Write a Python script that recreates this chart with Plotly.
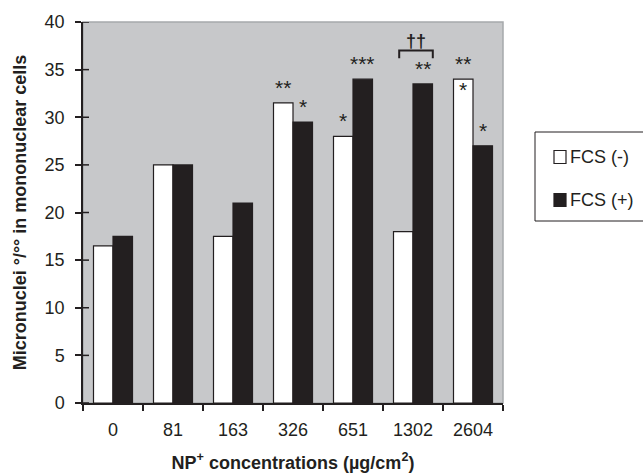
import plotly.graph_objects as go

categories = ["0", "81", "163", "326", "651", "1302", "2604"]
fcs_neg = [16.5, 25, 17.5, 31.5, 28, 18, 34]
fcs_pos = [17.5, 25, 21, 29.5, 34, 33.5, 27]
stars_neg_above = ["", "", "", "**", "*", "", "**"]
stars_neg_inside = ["", "", "", "", "", "", "*"]
stars_pos_above = ["", "", "", "*", "***", "**", "*"]
bracket_group = "1302"
bracket_label = "††"
bracket_level = 37.0
legend_labels = ["FCS (-)", "FCS (+)"]
y_max, y_step = 40, 5

FONT = "Liberation Sans, Arial, sans-serif"
INK = "#231f20"
BARGAP = 0.35
W = (1 - BARGAP) / 2
L, R, T, B = 83, 503, 22, 403
PW, PH = R - L, B - T
legend_fills = ["white", INK]

def px(xp):
    return (xp - L) / PW

def py(yp):
    return (B - yp) / PH

fig = go.Figure()
fig.add_trace(go.Bar(x=categories, y=fcs_neg, name=legend_labels[0],
                     marker=dict(color=legend_fills[0], line=dict(color=INK, width=1.2))))
fig.add_trace(go.Bar(x=categories, y=fcs_pos, name=legend_labels[1],
                     marker=dict(color=legend_fills[1], line=dict(color=INK, width=1.2))))

ann = []
def star(xpos, yval, text, above=True):
    ann.append(dict(x=xpos, y=yval, xref="x", yref="y", text=text, showarrow=False,
                    yanchor="bottom" if above else "top",
                    yshift=2 if above else 3,
                    font=dict(family=FONT, size=21, color=INK)))

for i, c in enumerate(categories):
    if stars_neg_above[i]:
        star(i - W / 2, fcs_neg[i], stars_neg_above[i])
    if stars_neg_inside[i]:
        star(i - W / 2, fcs_neg[i], stars_neg_inside[i], above=False)
    if stars_pos_above[i]:
        star(i + W / 2, fcs_pos[i], stars_pos_above[i])

bi = categories.index(bracket_group)
x0b, x1b = bi - 0.23, bi + 0.33
shapes = [
    dict(type="path", xref="x", yref="y",
         path=f"M {x0b} {bracket_level - 0.8} L {x0b} {bracket_level} L {x1b} {bracket_level} L {x1b} {bracket_level - 0.8}",
         line=dict(color=INK, width=2)),
    dict(type="rect", xref="paper", yref="paper", x0=0, x1=1, y0=0, y1=1,
         line=dict(color="#a7a9ac", width=1.5), layer="below"),
    dict(type="rect", xref="paper", yref="paper", x0=px(535), x1=px(660),
         y0=py(221), y1=py(132), line=dict(color=INK, width=1)),
]
# inner half of the crossing y-axis ticks
for v in range(0, y_max + 1, y_step):
    shapes.append(dict(type="line", xref="paper", yref="y", x0=0, x1=px(89), y0=v, y1=v,
                       line=dict(color=INK, width=1.5)))
ann.append(dict(x=(x0b + x1b) / 2, y=bracket_level, xref="x", yref="y", text="<b>" + bracket_label + "</b>",
                showarrow=False, yanchor="bottom", yshift=-2,
                font=dict(family=FONT, size=18, color=INK)))
for k, lab in enumerate(legend_labels):
    yc = 157 + 43 * k
    shapes.append(dict(type="rect", xref="paper", yref="paper",
                       x0=px(554), x1=px(566), y0=py(yc + 6.5), y1=py(yc - 6.5),
                       fillcolor=legend_fills[k], line=dict(color=INK, width=1.2)))
    ann.append(dict(x=px(568), y=py(yc), xref="paper", yref="paper",
                    text=lab, showarrow=False, xanchor="left", yanchor="middle",
                    font=dict(family=FONT, size=18, color=INK)))

fig.update_layout(
    width=643, height=474,
    margin=dict(l=L, r=643 - R, t=T, b=474 - B, autoexpand=False),
    paper_bgcolor="white",
    plot_bgcolor="#c7c8ca",
    barmode="group", bargap=BARGAP, bargroupgap=0,
    font=dict(family=FONT, size=18, color=INK),
    showlegend=False,
    annotations=ann,
    shapes=shapes,
    xaxis=dict(type="category", range=[-0.5, 6.5], showline=True, linecolor=INK, linewidth=1.5,
               ticks="outside", tickson="boundaries", ticklen=6, tickwidth=1.5, tickcolor=INK,
               ticklabelstandoff=10, showgrid=False, zeroline=False, automargin=False,
               title=dict(text="<b>NP<sup>+</sup> concentrations (µg/cm<sup>2</sup>)</b>",
                          font=dict(family=FONT, size=18, color=INK), standoff=17)),
    yaxis=dict(range=[0, y_max], dtick=y_step, showline=True, linecolor=INK, linewidth=1.5,
               ticks="outside", ticklen=6, tickwidth=1.5, tickcolor=INK,
               ticklabelstandoff=7, showgrid=False, zeroline=False, automargin=False,
               title=dict(text="<b>Micronuclei °/°° in mononuclear cells</b>",
                          font=dict(family=FONT, size=18, color=INK), standoff=13)),
)

fig.write_html("out.html", config={"displayModeBar": False},
               post_script="document.body.style.margin='0';document.body.style.overflow='hidden';")
